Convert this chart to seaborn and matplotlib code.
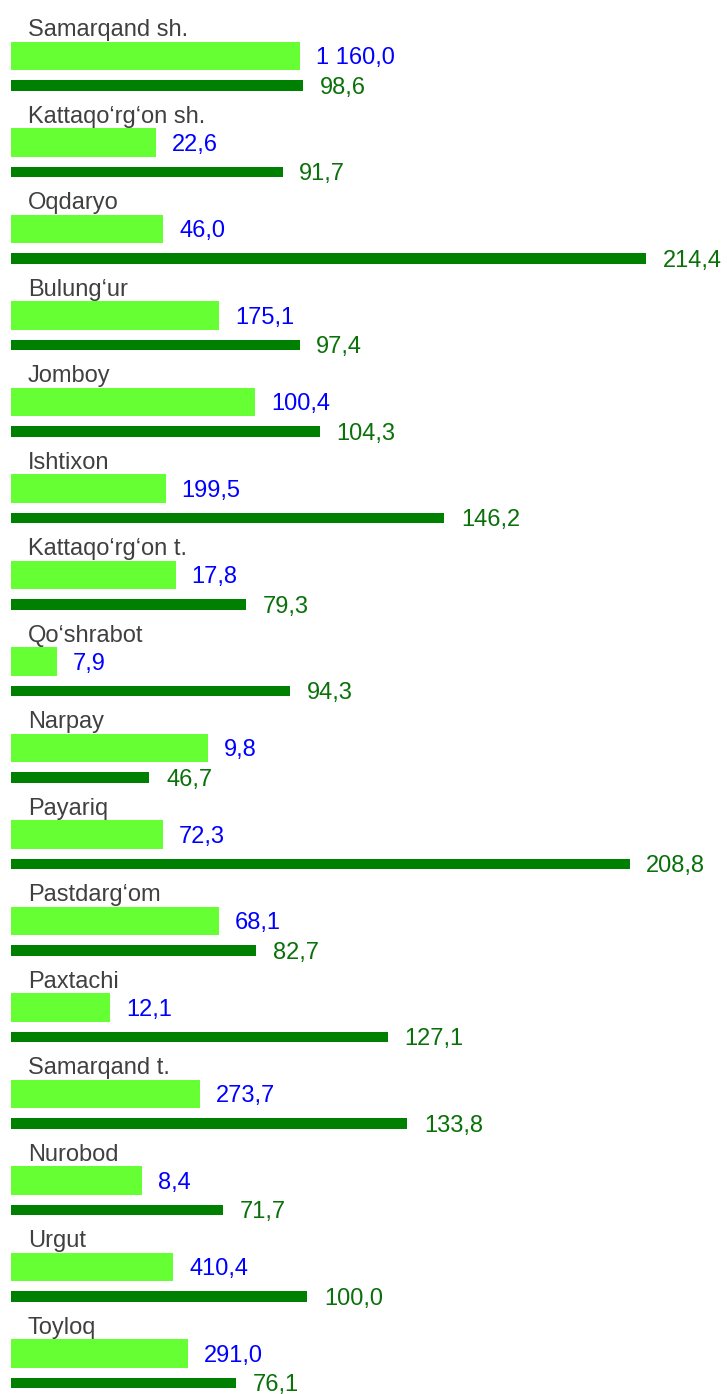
import matplotlib
matplotlib.use("Agg")
import matplotlib.pyplot as plt
import seaborn as sns
import pandas as pd
import numpy as np

# Districts of Samarqand region
districts = [
    "Samarqand sh.", "Kattaqo‘rg‘on sh.", "Oqdaryo", "Bulung‘ur", "Jomboy",
    "Ishtixon", "Kattaqo‘rg‘on t.", "Qo‘shrabot", "Narpay", "Payariq",
    "Pastdarg‘om", "Paxtachi", "Samarqand t.", "Nurobod", "Urgut", "Toyloq",
]
# Volume (printed in blue next to the light bars)
volume = [1160.0, 22.6, 46.0, 175.1, 100.4, 199.5, 17.8, 7.9,
          9.8, 72.3, 68.1, 12.1, 273.7, 8.4, 410.4, 291.0]
# Relative size of the light bars
volume_bar = [97.5, 48.8, 51.4, 70.3, 82.5, 52.2, 55.6, 15.5,
              66.6, 51.3, 70.2, 33.4, 63.8, 44.1, 54.7, 59.7]
# Growth rate, % (dark bars)
growth = [98.6, 91.7, 214.4, 97.4, 104.3, 146.2, 79.3, 94.3,
          46.7, 208.8, 82.7, 127.1, 133.8, 71.7, 100.0, 76.1]


def fmt(v):
    s = f"{v:,.1f}".replace(",", " ").replace(".", ",")
    return s


n = len(districts)
pos = np.arange(n, dtype=float)
dark_shift = 0.341

df_light = pd.DataFrame({"pos": pos, "value": volume_bar})
df_dark = pd.DataFrame({"pos": pos + dark_shift, "value": growth})

sns.set_theme(style="white")
plt.rcParams["font.family"] = ["Liberation Sans", "DejaVu Sans"]

fig = plt.figure(figsize=(7.27, 13.94), dpi=100)
ax = fig.add_axes([0, 0, 1, 1])

LIGHT = "#66FF33"
DARK = "#008000"

sns.barplot(data=df_light, x="value", y="pos", orient="y", native_scale=True,
            width=0.331, color=LIGHT, saturation=1, errorbar=None,
            linewidth=0, ax=ax)
sns.barplot(data=df_dark, x="value", y="pos", orient="y", native_scale=True,
            width=0.120, color=DARK, saturation=1, errorbar=None,
            linewidth=0, ax=ax)

ax.set_xlim(-11 / 2.963, (727 - 11) / 2.963)
ax.set_ylim((1394 - 56) / 86.5, -56 / 86.5)
ax.axis("off")

fs = 17
for i in range(n):
    ax.annotate(districts[i], xy=(0, pos[i]), xytext=(12.2, 14.4),
                textcoords="offset points", ha="left", va="baseline",
                fontsize=fs, color="#404040")
    ax.annotate(fmt(volume[i]), xy=(volume_bar[i], pos[i]), xytext=(11.5, -6.0),
                textcoords="offset points", ha="left", va="baseline",
                fontsize=fs, color="#0000FF")
    ax.annotate(fmt(growth[i]), xy=(growth[i], pos[i] + dark_shift),
                xytext=(12.0, -6.0), textcoords="offset points",
                ha="left", va="baseline", fontsize=fs, color="#0A700A")

fig.savefig("out.png", dpi=100)
